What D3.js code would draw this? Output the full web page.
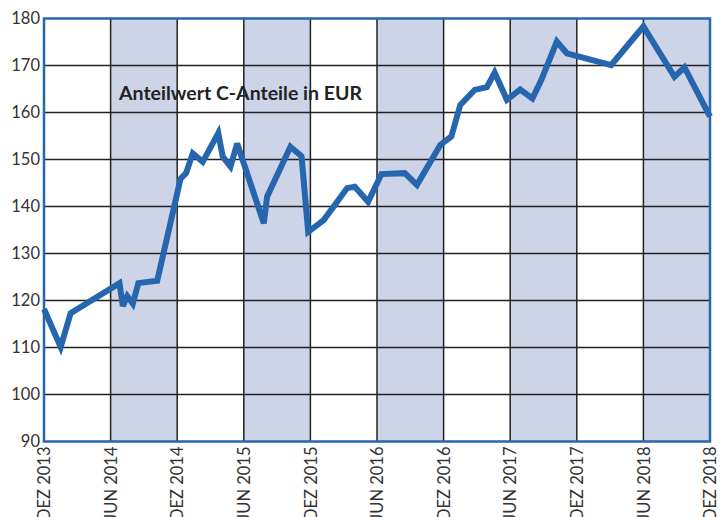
<!DOCTYPE html>
<html>
<head>
<meta charset="utf-8">
<script src="https://cdn.jsdelivr.net/npm/d3@7"></script>
<style>
  body { margin: 0; background: #fff; }
  text { font-family: Lato, "Open Sans", sans-serif; }
</style>
</head>
<body>
<script>
// months counted from DEZ 2013
var months = [0, 1.5, 2.4, 6.8, 7.1, 7.5, 8.0, 8.5, 10.2, 12.3, 12.8, 13.4, 14.3, 15.7, 16.1, 16.8, 17.4,
  19.8, 20.1, 22.2, 23.2, 23.8, 25.2, 27.3, 28.0, 29.2, 30.4, 32.5, 33.6, 35.7, 36.7, 37.5, 38.8, 39.9,
  40.6, 41.7, 42.9, 44.0, 44.8, 46.2, 47.1, 51.1, 54.0, 56.8, 57.7, 60];
var values = [118.2, 110.1, 117.3, 123.7, 118.8, 120.9, 119.3, 123.7, 124.2, 145.9, 147.1, 151.3, 149.5, 155.6, 150.6, 148.5, 153.4,
  136.4, 142.1, 152.7, 150.7, 134.6, 137.1, 143.9, 144.2, 141.0, 146.9, 147.1, 144.6, 153.1, 154.9, 161.6, 164.8, 165.4,
  168.5, 162.7, 164.9, 163.0, 166.9, 175.1, 172.6, 170.1, 178.3, 167.6, 169.6, 159.1];
var tickLabels = ["DEZ 2013", "JUN 2014", "DEZ 2014", "JUN 2015", "DEZ 2015", "JUN 2016",
  "DEZ 2016", "JUN 2017", "DEZ 2017", "JUN 2018", "DEZ 2018"];
var yTicks = [90, 100, 110, 120, 130, 140, 150, 160, 170, 180];
var title = "Anteilwert C-Anteile in EUR";

var W = 725, H = 517;
var pLeft = 44, pRight = 710, pTop = 18.5, pBottom = 441.5;
var blue = "#2566ae";

var svg = d3.select("body").append("svg")
  .attr("width", W)
  .attr("height", H);

var x = d3.scaleLinear().domain([0, 60]).range([pLeft, pRight]);
var y = d3.scaleLinear().domain([90, 180]).range([pBottom, pTop]);

// shaded half-years (JUN -> DEZ)
var bands = d3.range(1, tickLabels.length, 2);
svg.selectAll("rect.band")
  .data(bands)
  .enter().append("rect")
  .attr("class", "band")
  .attr("x", function (i) { return x(i * 6); })
  .attr("y", pTop)
  .attr("width", function (i) { return x((i + 1) * 6) - x(i * 6); })
  .attr("height", pBottom - pTop)
  .attr("fill", "#ced4e8");

// grid
svg.selectAll("line.hg")
  .data(yTicks.slice(1, -1))
  .enter().append("line")
  .attr("class", "hg")
  .attr("x1", pLeft).attr("x2", pRight)
  .attr("y1", function (d) { return y(d); })
  .attr("y2", function (d) { return y(d); })
  .attr("stroke", "#222").attr("stroke-width", 1.5);

svg.selectAll("line.vg")
  .data(d3.range(1, tickLabels.length - 1))
  .enter().append("line")
  .attr("class", "vg")
  .attr("y1", pTop).attr("y2", pBottom)
  .attr("x1", function (i) { return x(i * 6); })
  .attr("x2", function (i) { return x(i * 6); })
  .attr("stroke", "#222").attr("stroke-width", 1.5);

// frame
svg.append("rect")
  .attr("x", pLeft).attr("y", pTop)
  .attr("width", pRight - pLeft).attr("height", pBottom - pTop)
  .attr("fill", "none")
  .attr("stroke", blue).attr("stroke-width", 2.5);

// y labels
var yAxis = d3.axisLeft(y).tickValues(yTicks).tickSize(0).tickPadding(4);
var gy = svg.append("g").attr("transform", "translate(" + pLeft + ",0)").call(yAxis);
gy.select(".domain").remove();
gy.selectAll("text")
  .attr("font-size", 16.5)
  .attr("fill", "#333");

// x labels
var xAxis = d3.axisBottom(x)
  .tickValues(d3.range(0, 61, 6))
  .tickFormat(function (d, i) { return tickLabels[i]; })
  .tickSize(0);
var gx = svg.append("g").attr("transform", "translate(0," + pBottom + ")").call(xAxis);
gx.select(".domain").remove();
gx.selectAll("text")
  .attr("font-size", 16.5)
  .attr("fill", "#333")
  .attr("text-anchor", "end")
  .attr("dy", "0.35em")
  .attr("transform", "translate(0,5) rotate(-90)")
  .attr("x", 0).attr("y", 0);

// line
var line = d3.line()
  .x(function (d, i) { return x(months[i]); })
  .y(function (d) { return y(d); });

svg.append("path")
  .datum(values)
  .attr("d", line)
  .attr("fill", "none")
  .attr("stroke", blue)
  .attr("stroke-width", 6)
  .attr("stroke-linejoin", "miter")
  .attr("stroke-miterlimit", 3);

svg.append("text")
  .attr("x", 119).attr("y", 100)
  .attr("font-size", 19.5)
  .attr("font-weight", 700)
  .attr("fill", "#222")
  .text(title);
</script>
</body>
</html>
